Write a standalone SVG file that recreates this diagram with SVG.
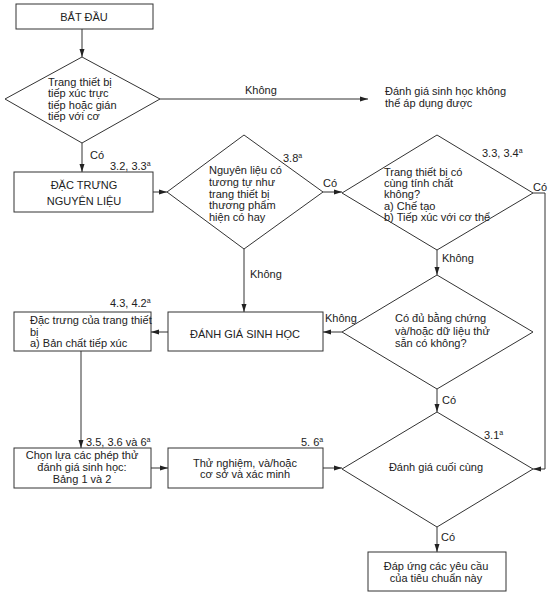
<svg xmlns="http://www.w3.org/2000/svg" width="554" height="600" viewBox="0 0 554 600">
<defs>
<marker id="ah" markerUnits="userSpaceOnUse" markerWidth="8" markerHeight="6" refX="8" refY="3" orient="auto">
<path d="M0,0.5 L8,3 L0,5.5 Z" fill="#222"/>
</marker>
<style>
.s{fill:#fff;stroke:#333;stroke-width:1}
.c{fill:none;stroke:#333;stroke-width:1}
text{font-family:"Liberation Sans",Arial,sans-serif;font-size:11px;fill:#222}
.m{text-anchor:middle}
.sup{font-size:7px}
</style>
</defs>
<rect width="554" height="600" fill="#fff"/>
<g id="connectors">
<path class="c" d="M82,29 V57" marker-end="url(#ah)"/>
<path class="c" d="M160,99 H368" marker-end="url(#ah)"/>
<path class="c" d="M82,143 V172" marker-end="url(#ah)"/>
<path class="c" d="M153,192 H167" marker-end="url(#ah)"/>
<path class="c" d="M323,192 H342" marker-end="url(#ah)"/>
<path class="c" d="M244,249 V312" marker-end="url(#ah)"/>
<path class="c" d="M533,193 H545 V469 H533" marker-end="url(#ah)"/>
<path class="c" d="M437,250 V275" marker-end="url(#ah)"/>
<path class="c" d="M342,332 H323" marker-end="url(#ah)"/>
<path class="c" d="M168,332 H151" marker-end="url(#ah)"/>
<path class="c" d="M81,351 V448" marker-end="url(#ah)"/>
<path class="c" d="M151,468 H168" marker-end="url(#ah)"/>
<path class="c" d="M323,468 H342" marker-end="url(#ah)"/>
<path class="c" d="M437,389 V412" marker-end="url(#ah)"/>
<path class="c" d="M437,527 V552" marker-end="url(#ah)"/>
<text x="245" y="94">Không</text>
<text x="90" y="159">Có</text>
<text x="323" y="187">Có</text>
<text x="250" y="278">Không</text>
<text x="533" y="191">Có</text>
<text x="442" y="262">Không</text>
<text x="325" y="322">Không</text>
<text x="442" y="404">Có</text>
<text x="441" y="541">Có</text>
</g>
<g id="start">
<rect class="s" x="16" y="4" width="137" height="25"/>
<text class="m" x="84" y="21">BẮT ĐẦU</text>
</g>
<g id="d1">
<polygon class="s" points="82,57 160,99 82,143 5,99"/>
<text x="48" y="85.5">Trang thiết bị</text>
<text x="48" y="97">tiếp xúc trực</text>
<text x="48" y="108.5">tiếp hoặc gián</text>
<text x="48" y="120">tiếp  với cơ</text>
</g>
<g id="notapplicable">
<text x="385" y="95">Đánh giá sinh học không</text>
<text x="385" y="107">thể áp dụng được</text>
</g>
<g id="material">
<rect class="s" x="14" y="172" width="139" height="40"/>
<text class="m" x="84" y="189">ĐẶC TRƯNG</text>
<text class="m" x="84" y="205">NGUYÊN LIỆU</text>
<text x="110" y="170">3.2, 3.3<tspan class="sup" dy="-4">a</tspan></text>
</g>
<g id="d2">
<polygon class="s" points="244,135 323,192 244,249 167,192"/>
<text x="209" y="174">Nguyên liệu có</text>
<text x="209" y="186">tương tự như</text>
<text x="209" y="197.5">trang thiết bị</text>
<text x="209" y="209">thương phẩm</text>
<text x="209" y="221">hiện có hay</text>
<text x="283" y="162">3.8<tspan class="sup" dy="-4">a</tspan></text>
</g>
<g id="d3">
<polygon class="s" points="437,135 533,193 437,250 342,193"/>
<text x="384" y="176">Trang thiết bị có</text>
<text x="384" y="187">cùng tính chất</text>
<text x="384" y="198">không?</text>
<text x="384" y="210">a) Chế tạo</text>
<text x="384" y="221">b) Tiếp xúc với cơ thể</text>
<text x="482" y="157">3.3, 3.4<tspan class="sup" dy="-4">a</tspan></text>
</g>
<g id="d4">
<polygon class="s" points="437,275 533,332 437,389 342,332"/>
<text x="395" y="322">Có đủ bằng chứng</text>
<text x="395" y="335">và/hoặc dữ liệu thử</text>
<text x="395" y="347">sẵn có không?</text>
</g>
<g id="bioeval">
<rect class="s" x="168" y="312" width="155" height="39"/>
<text class="m" x="245" y="338">ĐÁNH GIÁ SINH HỌC</text>
</g>
<g id="devicechar">
<rect class="s" x="14" y="312" width="137" height="39"/>
<text x="30" y="324">Đặc trưng của trang thiết</text>
<text x="30" y="336">bị</text>
<text x="30" y="347">a) Bản chất tiếp xúc</text>
<text x="110" y="307">4.3, 4.2<tspan class="sup" dy="-4">a</tspan></text>
</g>
<g id="select">
<rect class="s" x="14" y="448" width="137" height="40"/>
<text class="m" x="82" y="459">Chọn lựa các phép thử</text>
<text class="m" x="82" y="471">đánh giá sinh học:</text>
<text class="m" x="82" y="483">Bảng 1 và 2</text>
<text x="86" y="446">3.5, 3.6 và 6<tspan class="sup" dy="-4">a</tspan></text>
</g>
<g id="testing">
<rect class="s" x="168" y="448" width="155" height="40"/>
<text class="m" x="245" y="467">Thử nghiệm, và/hoặc</text>
<text class="m" x="245" y="478">cơ sở và xác minh</text>
<text x="301" y="446">5. 6<tspan class="sup" dy="-4">a</tspan></text>
</g>
<g id="d5">
<polygon class="s" points="437,412 533,469 437,527 342,469"/>
<text class="m" x="436" y="471">Đánh giá cuối cùng</text>
<text x="484" y="439">3.1<tspan class="sup" dy="-4">a</tspan></text>
</g>
<g id="final">
<rect class="s" x="368" y="552" width="138" height="39"/>
<text class="m" x="436" y="570">Đáp ứng các yêu cầu</text>
<text class="m" x="436" y="582">của tiêu chuẩn này</text>
</g>
</svg>
